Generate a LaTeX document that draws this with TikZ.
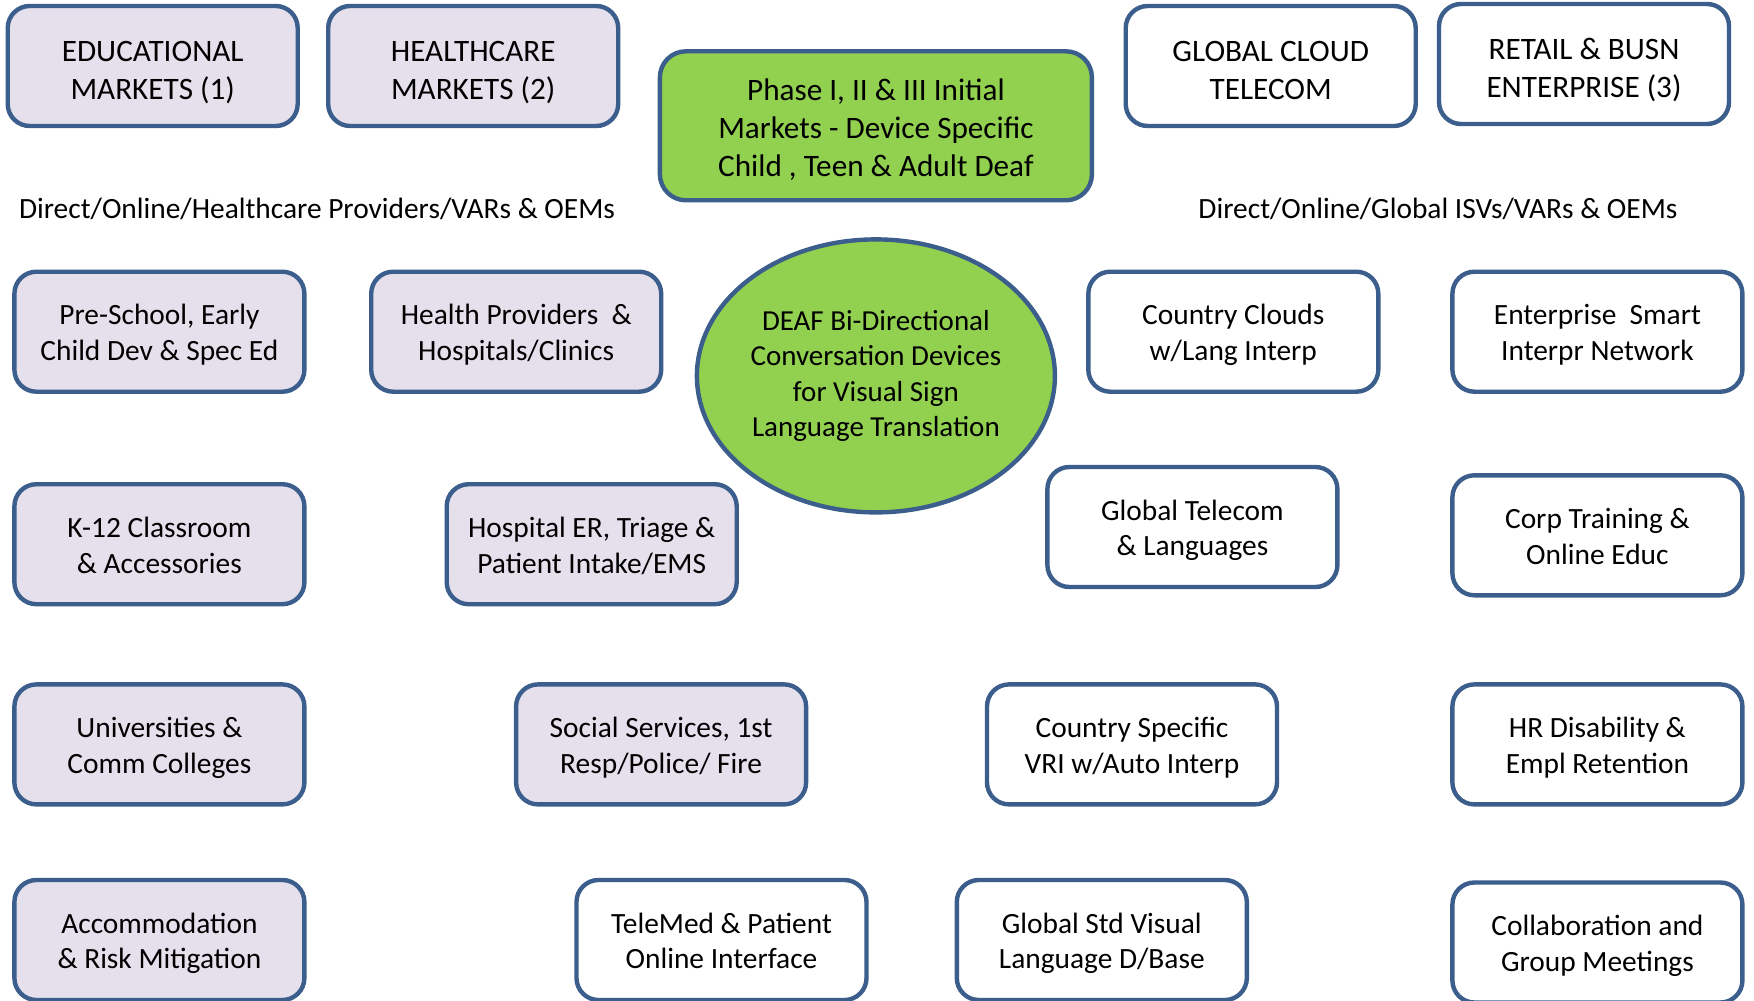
\documentclass[tikz,border=0pt]{standalone}
\usepackage{fontspec}
\setmainfont{Carlito}
\usetikzlibrary{shapes.geometric}
\definecolor{edgeblue}{HTML}{3B5E8C}
\definecolor{lavfill}{HTML}{E5E0EC}
\definecolor{limefill}{HTML}{92D050}
\tikzset{
  mbox/.style={draw=edgeblue, line width=2.2pt, rounded corners=11pt, minimum width=145pt, minimum height=60pt, align=center, inner sep=0pt, font=\fontsize{14.7}{17.9}\selectfont,
    execute at begin node={\rule{0pt}{2.25em}}, execute at end node={\rule[-0.28em]{0pt}{0.28em}}},
  mktbox/.style={mbox, fill=lavfill},
  chanbox/.style={mbox, fill=white},
  headbox/.style={font=\fontsize{15.6}{19}\selectfont, execute at begin node={\rule{0pt}{2.4em}}},
  chanlabel/.style={font=\fontsize{14.7}{17.9}\selectfont}
}

\begin{document}
\begin{tikzpicture}[x=0.5pt, y=-0.5pt]
	\useasboundingbox (0,0) rectangle (1754,1000);

	% top row
	\node[mktbox, headbox] at (152.7, 66) (edu) {EDUCATIONAL\\MARKETS (1)};
	\node[mktbox, headbox] at (473.2, 66) (health) {HEALTHCARE\\MARKETS (2)};
	\node[mbox, font=\fontsize{15.6}{19}\selectfont, execute at begin node={\rule{0pt}{3.5em}}, fill=limefill, rounded corners=13pt, minimum width=216pt, minimum height=74.5pt] at (875.9, 125.8) (phase) {Phase I, II \& III Initial\\Markets - Device Specific\\Child , Teen \& Adult Deaf};
	\node[chanbox, headbox] at (1270.7, 66) (cloud) {GLOBAL CLOUD\\TELECOM};
	\node[chanbox, headbox] at (1584, 64) (retail) {RETAIL \& BUSN\\ENTERPRISE (3)};

	\node[chanlabel] at (317, 209) (leftchan) {Direct/Online/Healthcare Providers/VARs \& OEMs};
	\node[chanlabel] at (1438, 209) (rightchan) {Direct/Online/Global ISVs/VARs \& OEMs};

	% centre
	\node[ellipse, draw=edgeblue, line width=2.2pt, fill=limefill, minimum width=179pt, minimum height=136.5pt, align=center, inner sep=0pt, font=\fontsize{14.5}{17.6}\selectfont] at (875.9, 375.9) (deaf) {DEAF Bi-Directional\\Conversation Devices\\for Visual Sign\\Language Translation};

	% education column
	\node[mktbox] at (159.4, 331.7) (preschool) {Pre-School, Early\\Child Dev \& Spec Ed};
	\node[mktbox] at (159.4, 544.2) (ktwelve) {K-12 Classroom\\\& Accessories};
	\node[mktbox] at (159.4, 744.4) (univ) {Universities \&\\Comm Colleges};
	\node[mktbox] at (159.4, 940) (accom) {Accommodation\\\& Risk Mitigation};

	% healthcare column
	\node[mktbox] at (516.2, 331.7) (providers) {Health Providers \ \&\\Hospitals/Clinics};
	\node[mktbox] at (591.7, 544.2) (hosper) {Hospital ER, Triage \&\\Patient Intake/EMS};
	\node[mktbox] at (661.1, 744.4) (social) {Social Services, 1st\\Resp/Police/ Fire};
	\node[chanbox] at (721.5, 940) (telemed) {TeleMed \& Patient\\Online Interface};

	% telecom column
	\node[chanbox] at (1233.3, 331.7) (ctryclouds) {Country Clouds\\w/Lang Interp};
	\node[chanbox] at (1192.4, 527) (gltelecom) {Global Telecom\\\& Languages};
	\node[chanbox] at (1132, 744.4) (ctryvri) {Country Specific\\VRI w/Auto Interp};
	\node[chanbox] at (1101.8, 940) (glstd) {Global Std Visual\\Language D/Base};

	% enterprise column
	\node[chanbox] at (1597.4, 331.7) (smartnet) {Enterprise \ Smart\\Interpr Network};
	\node[chanbox] at (1597.4, 535.3) (corptrain) {Corp Training \&\\Online Educ};
	\node[chanbox] at (1597.4, 744.4) (hrdis) {HR Disability \&\\Empl Retention};
	\node[chanbox] at (1597.4, 942.5) (collab) {Collaboration and\\Group Meetings};
\end{tikzpicture}
\end{document}
